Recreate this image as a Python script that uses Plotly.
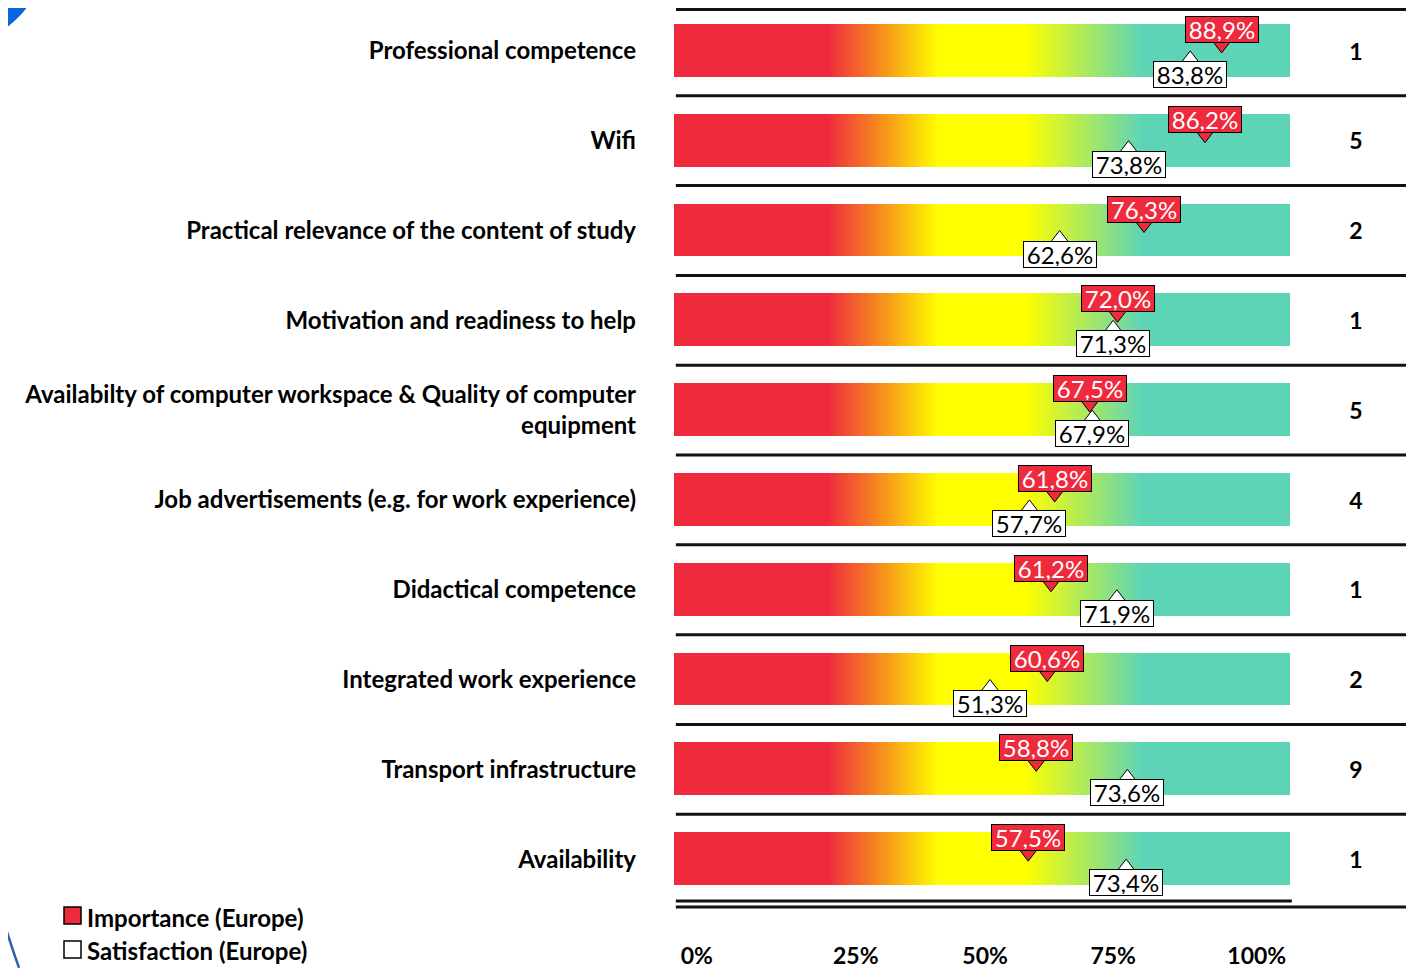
import numpy as np
import plotly.graph_objects as go

# ---------------- data ----------------
categories = [
    "Professional competence",
    "Wifi",
    "Practical relevance of the content of study",
    "Motivation and readiness to help",
    "Availabilty of computer workspace & Quality of computer<br>equipment",
    "Job advertisements (e.g. for work experience)",
    "Didactical competence",
    "Integrated work experience",
    "Transport infrastructure",
    "Availability",
]
importance = [88.9, 86.2, 76.3, 72.0, 67.5, 61.8, 61.2, 60.6, 58.8, 57.5]
satisfaction = [83.8, 73.8, 62.6, 71.3, 67.9, 57.7, 71.9, 51.3, 73.6, 73.4]
counts = ["1", "5", "2", "1", "5", "4", "1", "2", "9", "1"]
tick_text = ["0%", "25%", "50%", "75%", "100%"]
tick_pos = [3.7, 29.5, 50.5, 71.3, 94.6]
legend_names = ["Importance (Europe)", "Satisfaction (Europe)"]

# ---------------- geometry helpers ----------------
OFF = 8                      # page body margin
W, H = 1414 - OFF, 969 - OFF
ML, MR, MT, MB = 674 - OFF, 0, 0, 39
PX_PER_PCT = 6.16
ROW_PX = 90.0
n = len(categories)
rows = list(range(n))

def fmt(v):
    return f"{v:.1f}".replace(".", ",") + "%"

def paper_x(px):
    return (px - OFF - ML) / (W - ML - MR)

def paper_y(py):
    return (H - MB - (py - OFF)) / (H - MT - MB)

RED = "#EE2A3C"
TEAL = "#5ED4B7"
FONT = "Lato"
FS = 24

x_max = (W - ML - MR) / PX_PER_PCT
y_top = -0.5 + (OFF - 6) / ROW_PX
y_bot = y_top + (H - MT - MB) / ROW_PX

fig = go.Figure()

# gradient bars
edges = np.linspace(0, 100, 401)
centers = (edges[:-1] + edges[1:]) / 2
z = np.tile(centers / 100.0, (n, 1))
colorscale = [
    [0.0, RED], [0.25, RED], [0.34, "#F7941D"], [0.43, "#FFFF00"],
    [0.57, "#FFFF00"], [0.76, TEAL], [1.0, TEAL],
]
fig.add_trace(go.Heatmap(
    x=edges, y=rows, z=z, zmin=0, zmax=1, colorscale=colorscale,
    showscale=False, ygap=37, hoverinfo="skip",
))

# pointer triangles
fig.add_trace(go.Scatter(
    x=importance, y=[r - 6 / ROW_PX for r in rows], mode="markers",
    marker=dict(symbol="triangle-down", size=16, color=RED,
                line=dict(color="black", width=1)),
    hoverinfo="skip", showlegend=False,
))
fig.add_trace(go.Scatter(
    x=satisfaction, y=[r + 8 / ROW_PX for r in rows], mode="markers",
    marker=dict(symbol="triangle-up", size=16, color="white",
                line=dict(color="black", width=1)),
    hoverinfo="skip", showlegend=False,
))

# right column counts
fig.add_trace(go.Scatter(
    x=[110.7] * n, y=[r + 3 / ROW_PX for r in rows], mode="text", text=counts,
    textfont=dict(family=FONT, size=FS - 1, color="black", weight="bold"),
    hoverinfo="skip", showlegend=False,
))

annotations = []
for r, v in zip(rows, importance):
    annotations.append(dict(
        x=v, y=r, xref="x", yref="y", text=fmt(v), showarrow=False,
        yshift=21.5, bgcolor=RED, bordercolor="black", borderwidth=1,
        borderpad=1, width=70, height=23,
        font=dict(family=FONT, size=FS, color="white"),
    ))
for r, v in zip(rows, satisfaction):
    annotations.append(dict(
        x=v, y=r, xref="x", yref="y", text=fmt(v), showarrow=False,
        yshift=-23.5, bgcolor="white", bordercolor="black", borderwidth=1,
        borderpad=1, width=70, height=23,
        font=dict(family=FONT, size=FS, color="black"),
    ))

# legend (manual)
shapes = []
leg_y = [918, 952]
leg_fill = [RED, "white"]
for name, cy, col in zip(legend_names, leg_y, leg_fill):
    shapes.append(dict(
        type="rect", xref="paper", yref="paper",
        x0=paper_x(64), x1=paper_x(81), y0=paper_y(cy - 9), y1=paper_y(cy + 8),
        fillcolor=col, line=dict(color="black", width=1.5),
    ))
    annotations.append(dict(
        x=paper_x(85), y=paper_y(cy + 1), xref="paper", yref="paper",
        text=name, showarrow=False, xanchor="left", yanchor="middle",
        font=dict(family=FONT, size=FS, color="black", weight="bold"),
    ))

# row separators
shapes.append(dict(type="line", xref="paper", yref="paper",
                   x0=paper_x(676), x1=1, y0=paper_y(9.5), y1=paper_y(9.5),
                   line=dict(color="#111111", width=3)))
for i in range(1, n):
    shapes.append(dict(
        type="line", xref="x", yref="y", x0=0.3, x1=x_max,
        y0=i - 0.5, y1=i - 0.5, line=dict(color="#111111", width=3),
    ))
shapes.append(dict(type="line", xref="x", yref="y", x0=0.3, x1=100.3,
                   y0=n - 0.5 - 3 / ROW_PX, y1=n - 0.5 - 3 / ROW_PX,
                   line=dict(color="#111111", width=3)))
shapes.append(dict(type="line", xref="x", yref="y", x0=0.3, x1=x_max,
                   y0=n - 0.5 + 3 / ROW_PX, y1=n - 0.5 + 3 / ROW_PX,
                   line=dict(color="#111111", width=3)))

# decorative blue shapes
shapes.append(dict(type="circle", xref="paper", yref="paper",
                   x0=paper_x(-146), x1=paper_x(46), y0=paper_y(46), y1=paper_y(-146),
                   fillcolor="#0A66E0", line=dict(width=0), layer="below"))
shapes.append(dict(type="path", xref="paper", yref="paper",
                   path=f"M {paper_x(7)},{paper_y(934)} Q {paper_x(12)},{paper_y(950)} {paper_x(19)},{paper_y(970)}",
                   line=dict(color="#2A62B0", width=2.5)))

fig.update_layout(
    width=W, height=H, margin=dict(l=ML, r=MR, t=MT, b=MB),
    paper_bgcolor="white", plot_bgcolor="white",
    showlegend=False, shapes=shapes, annotations=annotations,
    font=dict(family=FONT, color="black"),
)
fig.update_xaxes(
    range=[0, x_max], showgrid=False, zeroline=False, showline=False,
    tickmode="array", tickvals=tick_pos, ticktext=tick_text, ticks="",
    tickfont=dict(family=FONT, size=FS - 1, color="black", weight="bold"),
    ticklabelstandoff=12,
)
fig.update_yaxes(
    range=[y_bot, y_top], showgrid=False, zeroline=False, showline=False,
    tickmode="array", tickvals=rows, ticktext=categories, ticks="",
    tickfont=dict(family=FONT, size=FS, color="black", weight="bold"),
    ticklabelstandoff=37,
)

fig.write_html("out.html")
